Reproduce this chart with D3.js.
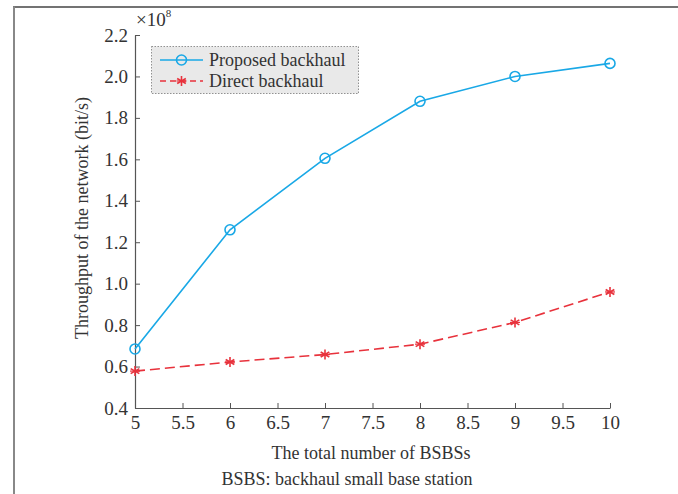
<!DOCTYPE html>
<html>
<head>
<meta charset="utf-8">
<script src="https://cdn.jsdelivr.net/npm/d3@7"></script>
<style>
  body { margin: 0; background: #fff; }
  svg { font-family: "Liberation Serif", "DejaVu Serif", serif; }
</style>
</head>
<body>
<svg id="chart" width="678" height="494"></svg>
<script>
const bsbsCount = [5, 6, 7, 8, 9, 10];
const proposed = [0.685, 1.26, 1.605, 1.88, 2.0, 2.063];
const direct = [0.578, 0.622, 0.658, 0.708, 0.813, 0.96];
const xTicks = [5, 5.5, 6, 6.5, 7, 7.5, 8, 8.5, 9, 9.5, 10];
const yTicks = [0.4, 0.6, 0.8, 1.0, 1.2, 1.4, 1.6, 1.8, 2.0, 2.2];

const svg = d3.select("#chart");
const blue = "#19a8e6", red = "#e8323c", ink = "#333";

// page frame
svg.append("line").attr("x1", 13).attr("y1", 7).attr("x2", 678).attr("y2", 7)
  .attr("stroke", "#444").attr("stroke-width", 1.5);
svg.append("line").attr("x1", 14).attr("y1", 6.5).attr("x2", 14).attr("y2", 494)
  .attr("stroke", "#888").attr("stroke-width", 2);

const x = d3.scaleLinear().domain([5, 10]).range([135, 610]);
const y = d3.scaleLinear().domain([0.4, 2.2]).range([408, 35]);

const xAxis = svg.append("g").attr("transform", "translate(0,408)")
  .call(d3.axisBottom(x).tickValues(xTicks).tickSizeInner(-5).tickSizeOuter(0)
    .tickFormat(d3.format("")));
const yAxis = svg.append("g").attr("transform", "translate(135,0)")
  .call(d3.axisLeft(y).tickValues(yTicks).tickSizeInner(-5).tickSizeOuter(0)
    .tickFormat(d3.format(".1f")));

[xAxis, yAxis].forEach(g => {
  g.attr("font-size", 19).attr("font-family", "Liberation Serif, serif");
  g.select(".domain").attr("stroke", "#555").attr("stroke-width", 1.2);
  g.selectAll(".tick line").attr("stroke", "#555");
  g.selectAll("text").attr("fill", ink);
});
xAxis.selectAll("text").attr("dy", "0.5em").attr("y", 11);
yAxis.selectAll("text").attr("x", -7);

// exponent
const ex = svg.append("text").attr("x", 136).attr("y", 26).attr("fill", ink).attr("font-size", 19);
ex.append("tspan").text("×10");
ex.append("tspan").attr("dy", -9).attr("font-size", 11).text("8");

// labels
svg.append("text").attr("x", 371).attr("y", 459).attr("text-anchor", "middle")
  .attr("fill", ink).attr("font-size", 18).text("The total number of BSBSs");
svg.append("text").attr("x", 347).attr("y", 485).attr("text-anchor", "middle")
  .attr("fill", ink).attr("font-size", 18).text("BSBS: backhaul small base station");
svg.append("text").attr("transform", "translate(88,218) rotate(-90)").attr("text-anchor", "middle")
  .attr("fill", ink).attr("font-size", 18).text("Throughput of the network (bit/s)");

const line = d3.line().x((d, i) => x(bsbsCount[i])).y(d => y(d));

svg.append("path").datum(proposed).attr("d", line).attr("fill", "none")
  .attr("stroke", blue).attr("stroke-width", 1.6);
svg.append("path").datum(direct).attr("d", line).attr("fill", "none")
  .attr("stroke", red).attr("stroke-width", 1.6).attr("stroke-dasharray", "10,5");

function circleMark(g, cx, cy) {
  g.append("circle").attr("cx", cx).attr("cy", cy).attr("r", 5)
    .attr("fill", "none").attr("stroke", blue).attr("stroke-width", 1.6);
}
function starMark(g, cx, cy) {
  const r = 5;
  [0, 60, 120].forEach(a => {
    const t = a * Math.PI / 180;
    g.append("line")
      .attr("x1", cx - r * Math.sin(t)).attr("y1", cy - r * Math.cos(t))
      .attr("x2", cx + r * Math.sin(t)).attr("y2", cy + r * Math.cos(t))
      .attr("stroke", red).attr("stroke-width", 1.6);
  });
  g.append("line").attr("x1", cx - r).attr("y1", cy).attr("x2", cx + r).attr("y2", cy)
    .attr("stroke", red).attr("stroke-width", 1.2);
}

const marks = svg.append("g");
proposed.forEach((d, i) => circleMark(marks, x(bsbsCount[i]), y(d)));
direct.forEach((d, i) => starMark(marks, x(bsbsCount[i]), y(d)));

// legend
const lg = svg.append("g");
lg.append("rect").attr("x", 151.5).attr("y", 46.5).attr("width", 207).attr("height", 47)
  .attr("fill", "#e9e9e9").attr("stroke", "#777").attr("stroke-width", 0.8)
  .attr("stroke-dasharray", "1.5,1.5");
lg.append("line").attr("x1", 160).attr("x2", 203).attr("y1", 60).attr("y2", 60)
  .attr("stroke", blue).attr("stroke-width", 1.6);
circleMark(lg, 181.5, 60);
lg.append("line").attr("x1", 160).attr("x2", 203).attr("y1", 81).attr("y2", 81)
  .attr("stroke", red).attr("stroke-width", 1.6).attr("stroke-dasharray", "6,4");
starMark(lg, 181.5, 81);
lg.append("text").attr("x", 209).attr("y", 66).attr("fill", ink).attr("font-size", 18)
  .text("Proposed backhaul");
lg.append("text").attr("x", 209).attr("y", 87).attr("fill", ink).attr("font-size", 18)
  .text("Direct backhaul");
</script>
</body>
</html>
